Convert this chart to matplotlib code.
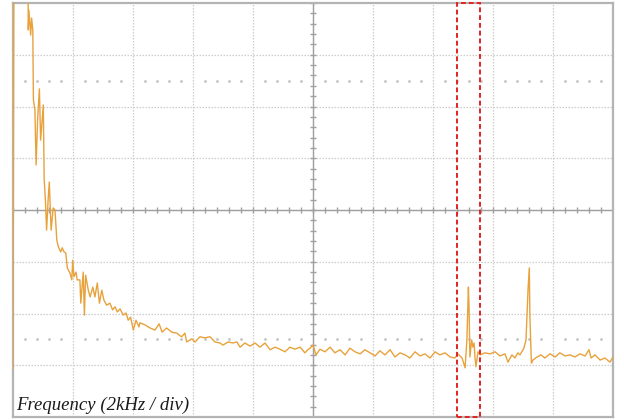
"""
FFT screen of the oscilloscope: spectrum trace with the
scope graticule, centre cross with sub-division ticks and
the marked band around 15 kHz.
"""
import numpy as np
import matplotlib
matplotlib.use("Agg")
import matplotlib.pyplot as plt
import matplotlib.patches as mpatches

# trace: frequency (kHz) and level (divisions)
freq_khz = [
    0.00, 0.03, 0.50, 0.51, 0.53, 0.59, 0.62, 0.66, 0.68, 0.73, 0.77, 0.82,
    0.88, 0.92, 0.97, 1.01, 1.04, 1.08, 1.12, 1.17, 1.21, 1.27, 1.34, 1.40,
    1.46, 1.51, 1.59, 1.64, 1.70, 1.76, 1.81, 1.90, 1.96, 1.99, 2.03, 2.10,
    2.14, 2.23, 2.26, 2.34, 2.38, 2.42, 2.51, 2.57, 2.66, 2.73, 2.81, 2.88,
    2.96, 3.03, 3.12, 3.23, 3.32, 3.40, 3.48, 3.57, 3.67, 3.77, 3.84, 3.92,
    4.01, 4.10, 4.20, 4.23, 4.40, 4.57, 4.73, 4.87, 4.97, 5.12, 5.29, 5.46,
    5.62, 5.73, 5.79, 5.96, 6.07, 6.23, 6.40, 6.57, 6.73, 6.90, 7.00, 7.17,
    7.33, 7.46, 7.57, 7.73, 7.90, 8.07, 8.23, 8.40, 8.57, 8.73, 8.90, 9.07,
    9.23, 9.40, 9.57, 9.73, 9.83, 9.90, 10.00, 10.10, 10.23, 10.40, 10.57,
    10.73, 10.90, 11.07, 11.23, 11.40, 11.57, 11.73, 11.90, 12.07, 12.23,
    12.40, 12.57, 12.73, 12.90, 13.07, 13.23, 13.40, 13.57, 13.73, 13.90,
    14.07, 14.23, 14.40, 14.57, 14.73, 14.83, 14.97, 15.07, 15.13, 15.18,
    15.20, 15.23, 15.29, 15.33, 15.37, 15.40, 15.43, 15.50, 15.57, 15.73,
    15.90, 16.07, 16.23, 16.40, 16.50, 16.63, 16.73, 16.83, 16.90, 17.03,
    17.10, 17.17, 17.21, 17.23, 17.28, 17.33, 17.47, 17.60, 17.73, 17.90,
    18.07, 18.23, 18.40, 18.57, 18.73, 18.90, 19.07, 19.20, 19.27, 19.40,
    19.57, 19.73, 19.90, 20.00,
]
level_div = [
    0.93, 8.50, 8.50, 7.48, 7.86, 7.38, 7.71, 7.48, 6.13, 5.93, 4.87, 5.74,
    6.34, 5.35, 5.74, 6.03, 4.58, 4.19, 3.61, 4.19, 4.54, 3.61, 4.04, 4.00,
    3.42, 3.29, 3.19, 3.27, 3.19, 3.17, 2.88, 2.78, 2.65, 3.03, 2.71, 2.80,
    2.65, 2.65, 2.20, 2.80, 1.97, 2.74, 2.45, 2.32, 2.51, 2.32, 2.59, 2.20,
    2.45, 2.26, 2.16, 2.20, 2.07, 2.13, 2.03, 2.09, 1.97, 2.01, 1.87, 1.93,
    1.68, 1.87, 1.74, 1.82, 1.78, 1.72, 1.68, 1.80, 1.64, 1.72, 1.64, 1.62,
    1.55, 1.62, 1.45, 1.51, 1.45, 1.55, 1.53, 1.55, 1.45, 1.43, 1.39, 1.45,
    1.43, 1.45, 1.35, 1.43, 1.37, 1.43, 1.35, 1.43, 1.30, 1.35, 1.31, 1.26,
    1.35, 1.31, 1.35, 1.24, 1.30, 1.33, 1.39, 1.20, 1.31, 1.26, 1.35,
    1.24, 1.30, 1.20, 1.33, 1.26, 1.22, 1.30, 1.24, 1.18, 1.28,
    1.20, 1.30, 1.16, 1.24, 1.20, 1.14, 1.26, 1.18, 1.22, 1.14,
    1.26, 1.20, 1.24, 1.16, 1.14, 1.22, 1.14, 0.95, 1.49, 2.51,
    2.16, 1.16, 1.49, 1.35, 1.43, 1.14, 0.97, 1.26, 1.20, 1.24,
    1.22, 1.26, 1.18, 1.22, 1.06, 1.20, 1.14, 1.24, 1.20, 1.33,
    1.49, 2.49, 2.88, 1.93, 1.04, 1.10, 1.16, 1.20, 1.14, 1.22,
    1.16, 1.24, 1.18, 1.20, 1.16, 1.22, 1.18, 1.30, 1.14, 1.20,
    1.10, 1.14, 1.06, 1.16,
]

# marked band (kHz) and the two rows of cursor dots (divisions)
band_khz = [14.79, 15.57]
cursor_rows = [1.5, 6.5]
label = "Frequency (2kHz / div)"

N_HDIV, N_VDIV = 10, 8
KHZ_PER_DIV = 2.0
X_MAX = N_HDIV * KHZ_PER_DIV

fig = plt.figure(figsize=(6.24, 4.20), dpi=100)
ax = fig.add_axes([13 / 624, 3 / 420, 600 / 624, 414 / 420])
ax.set_xlim(0, X_MAX)
ax.set_ylim(0, N_VDIV)
ax.set_xticks([])
ax.set_yticks([])
for sp in ax.spines.values():
    sp.set_color("#b4b4b4")
    sp.set_linewidth(1.6)

# graticule
grid_kw = dict(color="#cdcdcd", linestyle=(0, (1.2, 1.2)), linewidth=0.9,
               zorder=1)
for i in range(1, N_HDIV):
    ax.axvline(i * KHZ_PER_DIV, **grid_kw)
for j in range(1, N_VDIV):
    ax.axhline(j, **grid_kw)

# centre cross with 1/5 division ticks
xc, yc = X_MAX / 2, N_VDIV / 2
ax.axhline(yc, color="#a0a0a0", linewidth=1.0, zorder=2)
ax.axvline(xc, color="#a0a0a0", linewidth=1.0, zorder=2)
tx = np.arange(0, X_MAX + 0.01, KHZ_PER_DIV / 5)
ty = np.arange(0, N_VDIV + 0.01, 0.2)
ax.plot(tx, np.full_like(tx, yc), linestyle="none", marker="|",
        markersize=4.5, color="#a0a0a0", markeredgewidth=1.0, zorder=2)
ax.plot(np.full_like(ty, xc), ty, linestyle="none", marker="_",
        markersize=4.5, color="#a0a0a0", markeredgewidth=1.0, zorder=2)

# cursor dot rows (skip the points that sit on a grid line)
dots = [x for x in tx if abs(x / KHZ_PER_DIV - round(x / KHZ_PER_DIV)) > 1e-6]
for r in cursor_rows:
    ax.plot(dots, [r] * len(dots), linestyle="none", marker="s",
            markersize=0.9, color="#c4c4c4", zorder=1)

# spectrum trace
ax.plot(freq_khz, level_div, color="#e8a23c", linewidth=1.0, zorder=3)

# marked band
rect = mpatches.Rectangle((band_khz[0], 0), band_khz[1] - band_khz[0],
                          N_VDIV, fill=False, edgecolor="#e02424",
                          linestyle=(0, (2.5, 1.5)), linewidth=1.4,
                          zorder=4, clip_on=False)
ax.add_patch(rect)

ax.text(0.12, 0.13, label, fontsize=13.5, style="italic",
        family="Liberation Serif", color="#1a1a1a", zorder=5)

fig.savefig("out.png", dpi=100, facecolor="white")
